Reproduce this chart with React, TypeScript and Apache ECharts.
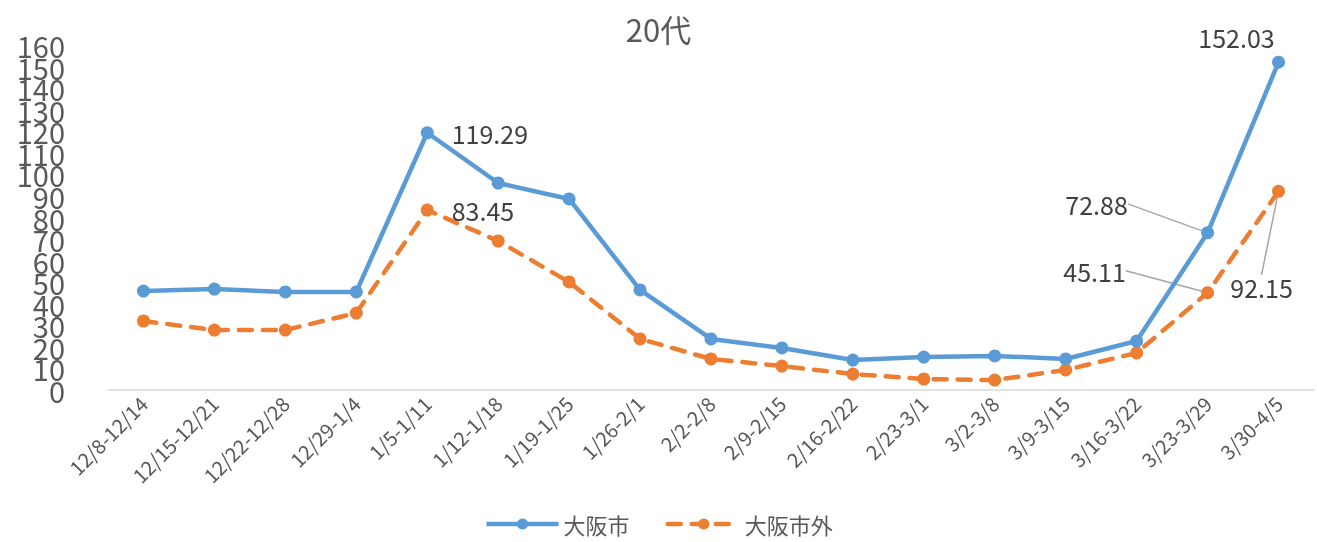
import React, { useEffect, useRef } from "react";
import * as echarts from "echarts";

const categories = [
  "12/8-12/14", "12/15-12/21", "12/22-12/28", "12/29-1/4", "1/5-1/11", "1/12-1/18",
  "1/19-1/25", "1/26-2/1", "2/2-2/8", "2/9-2/15", "2/16-2/22", "2/23-3/1",
  "3/2-3/8", "3/9-3/15", "3/16-3/22", "3/23-3/29", "3/30-4/5",
];
const osakaCity = [45.9, 46.8, 45.5, 45.5, 119.29, 96.0, 88.6, 46.4, 23.7, 19.5, 13.9, 15.3, 15.8, 14.4, 22.7, 72.88, 152.03];
const outsideCity = [32.0, 27.8, 27.8, 35.7, 83.45, 69.1, 50.1, 23.7, 14.4, 11.1, 7.4, 5.1, 4.6, 9.3, 17.2, 45.11, 92.15];
const yTicksEven = [0, 20, 40, 60, 80, 100, 120, 140, 160];
const yTicksOdd = [10, 30, 50, 70, 90, 110, 130, 150];
const seriesNames = ["大阪市", "大阪市外"];
const titleText = "20代";

const FONT = "'Noto Sans CJK JP', 'Noto Sans', sans-serif";
const TXT = "#595959";
const LBL = "#404040";
const BLUE = "#5B9BD5";
const ORANGE = "#ED7D31";

export default function App() {
  const ref = useRef<HTMLDivElement>(null);
  useEffect(() => {
    const chart = echarts.init(ref.current!, null, { renderer: "svg" });
    const lblStyle = { show: true, fontSize: 25, color: LBL, fontFamily: FONT };
    const guide = { show: true, lineStyle: { color: "#A6A6A6", width: 1.5 } };
    const blueData = osakaCity.map((v, i) => {
      if (i === 4) return { value: v, label: { ...lblStyle, position: "right", distance: 18, offset: [0, 0] } };
      if (i === 16) return { value: v, label: { ...lblStyle, position: "top", distance: 8 } };
      if (i === 15) return { value: v, label: { ...lblStyle, position: "inside" }, labelLine: guide };
      return v;
    });
    const orangeData = outsideCity.map((v, i) => {
      if (i === 4) return { value: v, label: { ...lblStyle, position: "right", distance: 18, offset: [0, 2] } };
      if (i === 15 || i === 16) return { value: v, label: { ...lblStyle, position: "inside" }, labelLine: guide };
      return v;
    });
    const blueMoves: Record<number, [number, number]> = { 15: [-111, -29], 16: [-42, 2] };
    const orangeMoves: Record<number, [number, number]> = { 15: [-113, -22], 16: [-17, 96] };
    const mk = (moves: Record<number, [number, number]>) => (p: any) => {
      const m = moves[p.dataIndex];
      return m ? { dx: m[0], dy: m[1] } : {};
    };
    const yLabel = { fontSize: 29, color: TXT, fontFamily: FONT, margin: 43, hideOverlap: false };
    const yBase = {
      type: "value",
      min: 0,
      max: 160,
      position: "left",
      offset: 0,
      axisLine: { show: false },
      axisTick: { show: false },
      splitLine: { show: false },
    };
    chart.setOption({
      animation: false,
      textStyle: { fontFamily: FONT },
      title: {
        text: titleText,
        left: "center",
        top: 8,
        textStyle: { fontSize: 31, fontWeight: "normal", color: TXT, fontFamily: FONT },
      },
      legend: {
        bottom: 2,
        left: "center",
        itemWidth: 72,
        itemHeight: 14,
        itemGap: 36,
        textStyle: { fontSize: 22, color: TXT, fontFamily: FONT },
        data: [
          { name: seriesNames[0], lineStyle: { width: 4.5, color: BLUE } },
          { name: seriesNames[1], lineStyle: { width: 4.5, color: ORANGE, type: [13, 11] } },
        ],
      },
      grid: { left: 108, right: 3, top: 45, bottom: 152, containLabel: false },
      xAxis: {
        type: "category",
        data: categories,
        boundaryGap: true,
        axisLine: { lineStyle: { color: "#D9D9D9", width: 1.5 } },
        axisTick: { show: false },
        axisLabel: { rotate: 45, fontSize: 20, color: TXT, fontFamily: FONT, margin: 10, interval: 0 },
      },
      yAxis: [
        { ...yBase, interval: 20, axisLabel: { ...yLabel, customValues: yTicksEven, showMinLabel: true, showMaxLabel: true } },
        { ...yBase, interval: 10, axisLabel: { ...yLabel, customValues: yTicksOdd } },
      ],
      series: [
        {
          name: seriesNames[0],
          type: "line",
          data: blueData,
          symbol: "circle",
          symbolSize: 13,
          color: BLUE,
          lineStyle: { width: 4.5, color: BLUE },
          itemStyle: { color: BLUE },
          labelLayout: mk(blueMoves),
          z: 3,
        },
        {
          name: seriesNames[1],
          type: "line",
          data: orangeData,
          symbol: "circle",
          symbolSize: 13,
          color: ORANGE,
          lineStyle: { width: 4.5, color: ORANGE, type: [13, 11], cap: "round" },
          itemStyle: { color: ORANGE },
          labelLayout: mk(orangeMoves),
          z: 2,
        },
      ],
    });
    return () => chart.dispose();
  }, []);
  return <div ref={ref} style={{ position: "fixed", left: 0, top: 0, width: 1317, height: 542 }} />;
}
